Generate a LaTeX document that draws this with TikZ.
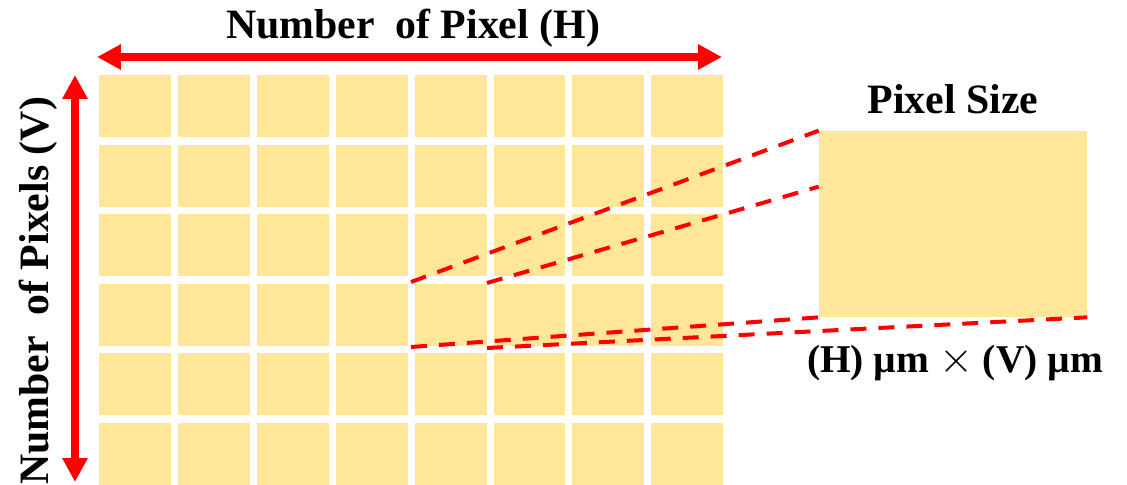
\documentclass[tikz,border=0pt]{standalone}
\usepackage{fontspec}
\setmainfont{Liberation Serif}
\usepackage{tikz}
\usetikzlibrary{arrows.meta,positioning,calc}
\usepackage{xcolor}
\definecolor{pixyellow}{RGB}{255,230,153}
\definecolor{dimred}{RGB}{255,0,0}
\tikzset{
    pixcell/.style={rectangle, fill=pixyellow, inner sep=0pt, minimum width=1.44cm, minimum height=1.24cm},
    pixbig/.style={rectangle, fill=pixyellow, inner sep=0pt, minimum width=5.36cm, minimum height=3.72cm},
    dimarrow/.style={line width=0.16cm, dimred, {Triangle[length=0.48cm,width=0.48cm]}-{Triangle[length=0.48cm,width=0.48cm]}},
    zoomline/.style={line width=0.08cm, dimred, dash pattern=on 0.32cm off 0.24cm},
    dimtext/.style={font=\bfseries\fontsize{23.8}{28}\selectfont, inner sep=0pt},
}

\begin{document}
\begin{tikzpicture}[x=0.02cm, y=-0.02cm]
    \useasboundingbox (0,0) rectangle (1127,484);

    % Pixel array
    \foreach \r in {1,...,6} {
        \foreach \c in {1,...,8} {
            \node[pixcell] (p\r\c) at ({56.1+78.9*\c}, {36.4+69.6*\r}) {};
        }
    }

    % Dimension arrows
    \coordinate (hl) at (97,57);
    \coordinate (hr) at (722,57);
    \coordinate (vt) at (75,75);
    \coordinate (vb) at (75,482);
    \draw[dimarrow] (hl) -- (hr);
    \draw[dimarrow] (vt) -- (vb);
    \node[dimtext] (htitle) at (413,28) {Number~ of Pixel (H)};
    \node[dimtext, rotate=90] (vtitle) at (38,291) {Number~ of Pixels (V)};

    % Magnified pixel
    \node[pixbig] (big) at (953,224) {};
    \node[dimtext, above=0.32cm of big] (sizetitle) {Pixel Size};
    \node[dimtext, font=\bfseries\fontsize{22.4}{26}\selectfont, below=0.56cm of big, xshift=0.04cm] (sizelabel) {(H) µm {\fontsize{30}{30}\selectfont$\times$} (V) µm};

    \coordinate (z1) at (411,282);
    \coordinate (z2) at (487,283);
    \coordinate (z3) at (411,347);
    \coordinate (z4) at (487,348);
    \draw[zoomline] (z1) -- (big.north west);
    \draw[zoomline] (z2) -- ($(big.north west)!0.3!(big.south west)$);
    \draw[zoomline] (z3) -- (big.south west);
    \draw[zoomline] (z4) -- (big.south east);
\end{tikzpicture}
\end{document}
